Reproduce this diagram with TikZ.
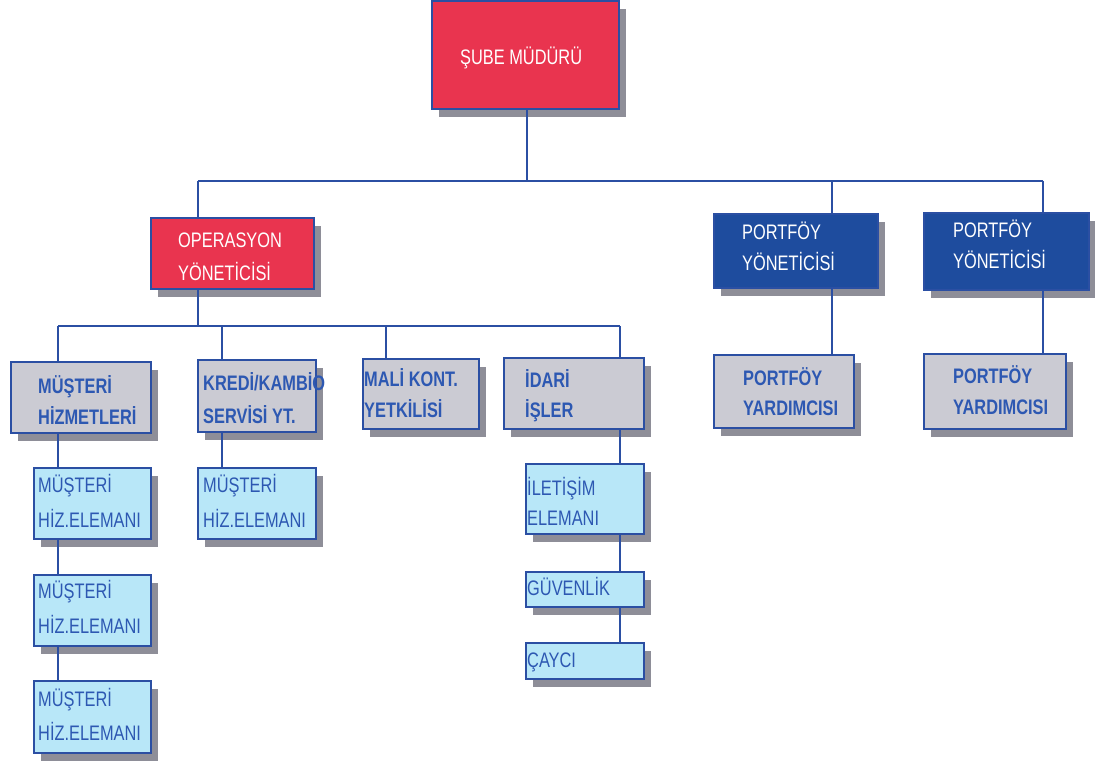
\documentclass[tikz,border=0pt]{standalone}
\usepackage{fontspec}
\newfontfamily\nf[FakeStretch=0.78]{Liberation Sans}
\usetikzlibrary{shadows}
\definecolor{boxred}{HTML}{E9344F}
\definecolor{boxnavy}{HTML}{1E4C9E}
\definecolor{boxgrey}{HTML}{CBCBD3}
\definecolor{boxcyan}{HTML}{B8E7F8}
\definecolor{bordblue}{HTML}{2B4FA3}
\definecolor{textblue}{HTML}{2D58B2}
\definecolor{shadowgrey}{HTML}{8E8E98}
\begin{document}
\begin{tikzpicture}[x=1pt,y=-1pt,
 box/.style={draw=bordblue, line width=1.8pt, anchor=north west, inner sep=0pt,
   drop shadow={shadow xshift=7pt, shadow yshift=-8pt, fill=shadowgrey, opacity=1}},
 redbox/.style={box, fill=boxred},
 navybox/.style={box, fill=boxnavy},
 greybox/.style={box, fill=boxgrey},
 cyanbox/.style={box, fill=boxcyan},
 lbl/.style={anchor=base west, align=left, inner sep=0pt, font=\nf\fontsize{21}{31}\selectfont},
 wlbl/.style={lbl, text=white},
 blbl/.style={lbl, text=textblue, font=\nf\bfseries\fontsize{21}{31}\selectfont},
 clbl/.style={lbl, text=textblue, font=\nf\fontsize{21}{35}\selectfont},
 conn/.style={draw=bordblue, line width=2.2pt}]
\fill[white] (0,0) rectangle (1095,762);
\useasboundingbox (0,0) rectangle (1095,762);
% connectors (coordinates)
\coordinate (b1L) at (198,181);
\coordinate (b1S) at (527,181);
\coordinate (b1P) at (832,181);
\coordinate (b1R) at (1043,181);
\coordinate (b2L) at (58,326);
\coordinate (b2O) at (198,326);
\coordinate (b2K) at (222,326);
\coordinate (b2M) at (386,326);
\coordinate (b2R) at (620,326);
% boxes
\node[redbox, minimum width=187pt, minimum height=108pt] (sube) at (431,0) {};
\node[redbox, minimum width=163pt, minimum height=71pt] (ops) at (150,217) {};
\node[navybox, minimum width=164pt, minimum height=74pt] (pf1) at (713,213) {};
\node[navybox, minimum width=165pt, minimum height=77pt] (pf2) at (923,212) {};
\node[greybox, minimum width=140pt, minimum height=73pt] (pfy1) at (713,354) {};
\node[greybox, minimum width=142pt, minimum height=75pt] (pfy2) at (923,353) {};
\node[greybox, minimum width=140pt, minimum height=71pt] (mh) at (10,361) {};
\node[greybox, minimum width=118pt, minimum height=72pt] (kk) at (197,359) {};
\node[greybox, minimum width=116pt, minimum height=70pt] (mk) at (362,358) {};
\node[greybox, minimum width=140pt, minimum height=71pt] (ia) at (503,357) {};
\node[cyanbox, minimum width=118pt, minimum height=70pt] (ie) at (525,463) {};
\node[cyanbox, minimum width=118pt, minimum height=35pt] (gv) at (525,571) {};
\node[cyanbox, minimum width=118pt, minimum height=36pt] (cy) at (525,642) {};
\node[cyanbox, minimum width=117pt, minimum height=71pt] (m1) at (33,467) {};
\node[cyanbox, minimum width=117pt, minimum height=71pt] (m2) at (33,574) {};
\node[cyanbox, minimum width=117pt, minimum height=72pt] (m3) at (33,680) {};
\node[cyanbox, minimum width=118pt, minimum height=71pt] (kc) at (197,467) {};
% connector lines
\draw[conn] (b1L) -- (b1R);
\draw[conn] (b1S) -- (b1S |- sube.south);
\draw[conn] (b1L) -- (b1L |- ops.north);
\draw[conn] (b1P) -- (b1P |- pf1.north);
\draw[conn] (b1R) -- (b1R |- pf2.north);
\draw[conn] (b1P |- pf1.south) -- (b1P |- pfy1.north);
\draw[conn] (b1R |- pf2.south) -- (b1R |- pfy2.north);
\draw[conn] (b2L) -- (b2R);
\draw[conn] (b2O) -- (b2O |- ops.south);
\draw[conn] (b2L) -- (b2L |- mh.north);
\draw[conn] (b2K) -- (b2K |- kk.north);
\draw[conn] (b2M) -- (b2M |- mk.north);
\draw[conn] (b2R) -- (b2R |- ia.north);
\draw[conn] (b2R |- ia.south) -- (b2R |- ie.north);
\draw[conn] (b2R |- ie.south) -- (b2R |- gv.north);
\draw[conn] (b2R |- gv.south) -- (b2R |- cy.north);
\draw[conn] (b2L |- mh.south) -- (b2L |- m1.north);
\draw[conn] (b2L |- m1.south) -- (b2L |- m2.north);
\draw[conn] (b2L |- m2.south) -- (b2L |- m3.north);
\draw[conn] (b2K |- kk.south) -- (b2K |- kc.north);
% texts (anchor = baseline of the last line)
\node[wlbl] (sube-t) at (460,65) {ŞUBE MÜDÜRÜ};
\node[wlbl, font=\nf\fontsize{21}{33}\selectfont] (ops-t) at (178,280) {OPERASYON\\YÖNETİCİSİ};
\node[wlbl] (pf1-t) at (742,270) {PORTFÖY\\YÖNETİCİSİ};
\node[wlbl] (pf2-t) at (953,268) {PORTFÖY\\YÖNETİCİSİ};
\node[blbl, font=\nf\bfseries\fontsize{21}{30}\selectfont] (pfy1-t) at (743,415) {PORTFÖY\\YARDIMCISI};
\node[blbl] (pfy2-t) at (953,414) {PORTFÖY\\YARDIMCISI};
\node[blbl] (mh-t) at (38,424) {MÜŞTERİ\\HİZMETLERİ};
\node[blbl, font=\nf\bfseries\fontsize{21}{33}\selectfont] (kk-t) at (203,423) {KREDİ/KAMBİO\\SERVİSİ YT.};
\node[blbl] (mk-t) at (364,417) {MALİ KONT.\\YETKİLİSİ};
\node[blbl, font=\nf\bfseries\fontsize{21}{30}\selectfont] (ia-t) at (525,417) {İDARİ\\İŞLER};
\node[clbl, font=\nf\fontsize{21}{30}\selectfont] (ie-t) at (527,525) {İLETİŞİM\\ELEMANI};
\node[clbl] (gv-t) at (527,595) {GÜVENLİK};
\node[clbl] (cy-t) at (527,667) {ÇAYCI};
\node[clbl] (m1-t) at (38,527) {MÜŞTERİ\\HİZ.ELEMANI};
\node[clbl] (m2-t) at (38,633) {MÜŞTERİ\\HİZ.ELEMANI};
\node[clbl, font=\nf\fontsize{21}{34}\selectfont] (m3-t) at (38,740) {MÜŞTERİ\\HİZ.ELEMANI};
\node[clbl] (kc-t) at (203,527) {MÜŞTERİ\\HİZ.ELEMANI};
\end{tikzpicture}
\end{document}
